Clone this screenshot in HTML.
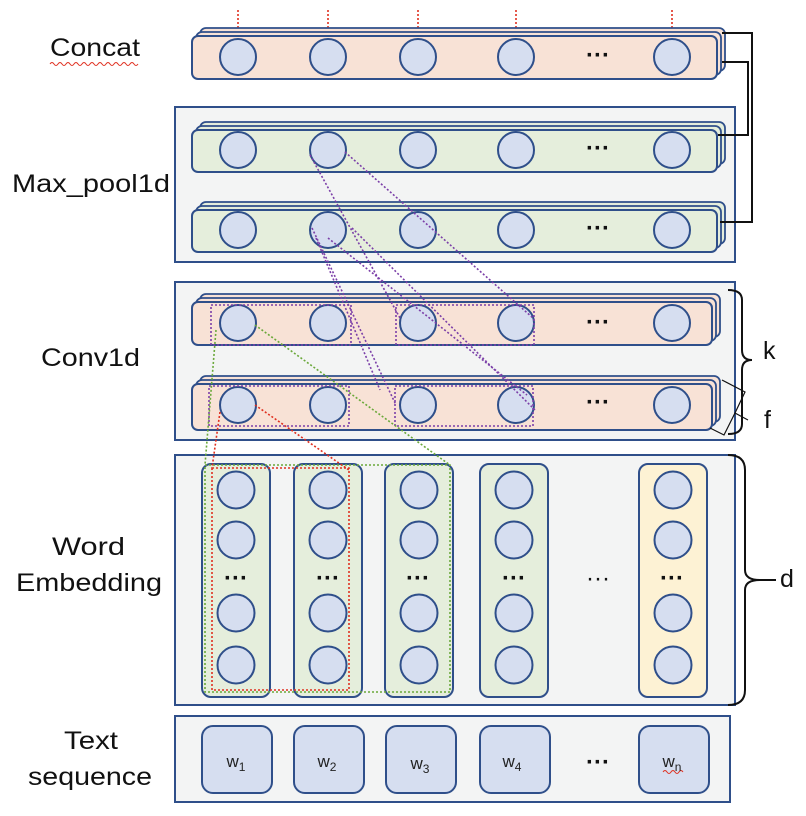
<!DOCTYPE html>
<html><head><meta charset="utf-8"><style>
body{margin:0;background:#fff}
svg{display:block;font-family:"Liberation Sans",sans-serif}
</style></head><body>
<svg id="s" width="806" height="816" viewBox="0 0 806 816" xmlns="http://www.w3.org/2000/svg">
<g id="g"></g>
<g font-size="25" fill="#111">
<text x="50" y="56" textLength="90" lengthAdjust="spacingAndGlyphs">Concat</text>
<text x="12" y="192" textLength="158" lengthAdjust="spacingAndGlyphs">Max_pool1d</text>
<text x="41" y="366" textLength="99" lengthAdjust="spacingAndGlyphs">Conv1d</text>
<text x="52" y="555" textLength="73" lengthAdjust="spacingAndGlyphs">Word</text>
<text x="16" y="591" textLength="146" lengthAdjust="spacingAndGlyphs">Embedding</text>
<text x="64" y="749" textLength="54" lengthAdjust="spacingAndGlyphs">Text</text>
<text x="28" y="785" textLength="124" lengthAdjust="spacingAndGlyphs">sequence</text>
<text x="763" y="359" font-size="25">k</text>
<text x="764" y="428" font-size="25">f</text>
<text x="780" y="587" font-size="25">d</text>
</g>
<g font-size="24" font-weight="bold" fill="#111" text-anchor="middle">
<text x="598" y="63">···</text>
<text x="598" y="156">···</text>
<text x="598" y="236">···</text>
<text x="598" y="330">···</text>
<text x="598" y="410">···</text>
<text x="236" y="586">···</text>
<text x="328" y="586">···</text>
<text x="418" y="586">···</text>
<text x="514" y="586">···</text>
<text x="598" y="586" font-weight="normal">···</text>
<text x="672" y="586">···</text>
<text x="598" y="770">···</text>
</g>
<g font-size="17" fill="#222" text-anchor="middle">
<text x="236" y="767">w<tspan font-size="12" dy="4">1</tspan></text>
<text x="327" y="767">w<tspan font-size="12" dy="4">2</tspan></text>
<text x="420" y="769">w<tspan font-size="12" dy="4">3</tspan></text>
<text x="512" y="767">w<tspan font-size="12" dy="4">4</tspan></text>
<text x="672" y="767">w<tspan font-size="12" dy="4">n</tspan></text>
</g>
</svg>
<script>
const g=document.getElementById('g');const N='http://www.w3.org/2000/svg';
function el(t,a){const e=document.createElementNS(N,t);for(const k in a)e.setAttribute(k,a[k]);g.appendChild(e);return e;}
const B='#2f4f8a';
function box(x,y,w,h){el('rect',{x,y,width:w,height:h,fill:'#f3f4f4',stroke:B,'stroke-width':2});}
function bar(x,y,w,h,fill,cy){
 for(let i=2;i>=1;i--)el('rect',{x:x+i*4,y:y-i*4,width:w,height:h,rx:6,fill:fill,stroke:B,'stroke-width':1.8});
 el('rect',{x,y,width:w,height:h,rx:6,fill:fill,stroke:B,'stroke-width':2});
 [238,328,418,516,672].forEach(cx=>el('ellipse',{cx,cy,rx:18,ry:18,fill:'#d6def0',stroke:B,'stroke-width':2}));
}
function ln(x1,y1,x2,y2,c){el('line',{x1,y1,x2,y2,stroke:c,'stroke-width':1.6,'stroke-dasharray':'2 2'});}
function dr(x,y,w,h,c){el('rect',{x,y,width:w,height:h,fill:'none',stroke:c,'stroke-width':1.6,'stroke-dasharray':'2 2'});}
[238,328,418,516,672].forEach(x=>ln(x,10,x,38,'#e03020'));
bar(192,36,525,43,'#f8e2d6',57);
box(175,107,560,155);
bar(192,130,525,42,'#e5eedc',150);
bar(192,210,525,42,'#e5eedc',230);
el('path',{d:'M722 33 H752 V222 H720 M722 62 H748 V135 H718',fill:'none',stroke:'#111','stroke-width':2});
box(175,282,560,158);
bar(192,302,520,43,'#f8e2d6',323);
bar(192,384,520,46,'#f8e2d6',405);
box(175,455,560,250);
const cols=[[202,'#e5eedc'],[294,'#e5eedc'],[385,'#e5eedc'],[480,'#e5eedc'],[639,'#fdf2d4']];
cols.forEach(([x,f])=>{el('rect',{x,y:464,width:68,height:233,rx:9,fill:f,stroke:B,'stroke-width':2});
 [490,540,613,665].forEach(cy=>el('ellipse',{cx:x+34,cy,rx:18.5,ry:18.5,fill:'#d6def0',stroke:B,'stroke-width':2}));});
box(175,716,555,86);
[202,294,386,480,639].forEach(x=>el('rect',{x,y:726,width:70,height:67,rx:11,fill:'#d6def0',stroke:B,'stroke-width':2}));
const P='#7b3fa8';
dr(211,305,140,40,P);dr(396,305,138,40,P);dr(209,386,140,40,P);dr(395,386,138,40,P);
ln(345,152,533,318,P);ln(310,155,400,318,P);ln(312,228,396,405,P);ln(352,228,535,410,P);ln(328,238,527,395,P);
ln(316,238,380,390,P);
const Gc='#6aa83a';
dr(205,465,245,227,Gc);ln(216,330,205,465,Gc);ln(255,325,450,465,Gc);
const R='#e03020';
dr(212,468,137,222,R);ln(220,412,212,468,R);ln(255,405,349,470,R);
el('path',{d:'M728 290 Q742 290 742 300 V350 Q742 360 752 360 Q742 360 742 370 V424 Q742 434 728 434',fill:'none',stroke:'#111','stroke-width':2});
el('path',{d:'M722 380 L745 392 L735 413 L748 420 M735 413 L724 435 L710 428',fill:'none',stroke:'#111','stroke-width':1.2});
el('path',{d:'M728 455 Q745 455 745 470 V570 Q745 580 760 580 H776 M760 580 Q745 580 745 590 V690 Q745 705 728 705',fill:'none',stroke:'#111','stroke-width':2});
el('path',{d:'M50 64 q2 -3 4 0 t4 0 t4 0 t4 0 t4 0 t4 0 t4 0 t4 0 t4 0 t4 0 t4 0 t4 0 t4 0 t4 0 t4 0 t4 0 t4 0 t4 0 t4 0 t4 0 t4 0 t4 0',fill:'none',stroke:'#e03020','stroke-width':1});
el('path',{d:'M663 772 q2 -3 4 0 t4 0 t4 0 t4 0 t4 0',fill:'none',stroke:'#e03020','stroke-width':1});
</script>
</body></html>
